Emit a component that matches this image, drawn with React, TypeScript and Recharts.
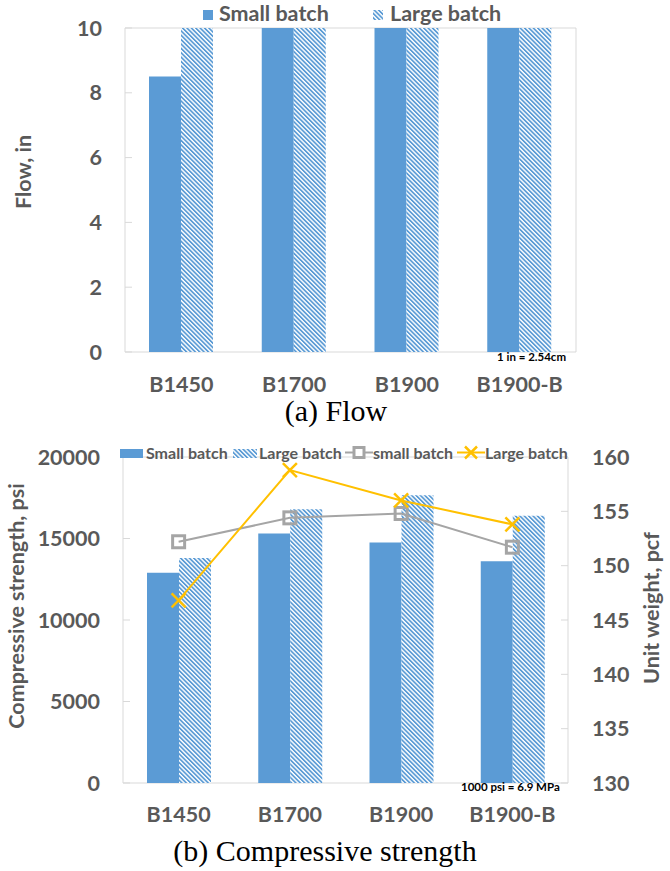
import React from 'react';
import { BarChart, ComposedChart, Bar, Line, XAxis, YAxis, ReferenceArea, Label } from 'recharts';

const MIXES = ['B1450', 'B1700', 'B1900', 'B1900-B'];

// (a) flow, in
const FLOW_SMALL = [8.5, 10, 10, 10];
const FLOW_LARGE = [10, 10, 10, 10];
const FLOW_TICKS = [0, 2, 4, 6, 8, 10];

// (b) compressive strength, psi / unit weight, pcf
const STRENGTH_SMALL = [12900, 15300, 14750, 13600];
const STRENGTH_LARGE = [13800, 16800, 17650, 16400];
const WEIGHT_SMALL = [152.2, 154.4, 154.8, 151.7];
const WEIGHT_LARGE = [146.8, 158.8, 156.0, 153.8];
const STRENGTH_TICKS = [0, 5000, 10000, 15000, 20000];
const WEIGHT_TICKS = [130, 135, 140, 145, 150, 155, 160];

const BAR_NAMES = ['Small batch', 'Large batch'];
const LINE_NAMES = ['small batch', 'Large batch'];

const BLUE = '#5B9BD5';
const GRAY = '#A5A5A5';
const GOLD = '#FFC000';
const TEXT = '#595959';
const FRAME = '#D9D9D9';
const FONT = "Lato, 'Open Sans', sans-serif";
const SERIF = "'Liberation Serif', 'Times New Roman', serif";

const flowData = MIXES.map((mix, i) => ({ mix, small: FLOW_SMALL[i], large: FLOW_LARGE[i] }));
const strengthData = MIXES.map((mix, i) => ({
  mix,
  small: STRENGTH_SMALL[i],
  large: STRENGTH_LARGE[i],
  wSmall: WEIGHT_SMALL[i],
  wLarge: WEIGHT_LARGE[i],
}));

const tickStyle = { fill: TEXT, fontSize: 21.5, fontWeight: 700, fontFamily: FONT };

const SquareDot = (props: any) => {
  const { cx, cy, index } = props;
  if (cx == null || cy == null) return <g key={index} />;
  return <rect key={index} x={cx - 6} y={cy - 6} width={12} height={12} fill="none" stroke={GRAY} strokeWidth={3} />;
};

const CrossDot = (props: any) => {
  const { cx, cy, index } = props;
  if (cx == null || cy == null) return <g key={index} />;
  return (
    <g key={index} stroke={GOLD} strokeWidth={2.5}>
      <line x1={cx - 7} y1={cy - 7} x2={cx + 7} y2={cy + 7} />
      <line x1={cx - 7} y1={cy + 7} x2={cx + 7} y2={cy - 7} />
    </g>
  );
};

const abs = (left: number, top: number): React.CSSProperties => ({ position: 'absolute', left, top });

const LegendText = ({ left, top, size, children }: { left: number; top: number; size: number; children: React.ReactNode }) => (
  <div style={{ ...abs(left, top), fontFamily: FONT, fontWeight: 700, fontSize: size, lineHeight: `${size * 1.2}px`, color: TEXT, whiteSpace: 'nowrap' }}>
    {children}
  </div>
);

export default function App() {
  return (
    <div style={{ position: 'absolute', left: 0, top: 0, width: 670, height: 871, background: '#fff' }}>
      <svg width={0} height={0} style={{ position: 'absolute' }}>
        <defs>
          <pattern id="hatch" patternUnits="userSpaceOnUse" width={3.1} height={10} patternTransform="rotate(-45)">
            <rect width={3.1} height={10} fill="#fff" />
            <rect width={1.7} height={10} fill={BLUE} />
          </pattern>
        </defs>
      </svg>

      {/* (a) Flow */}
      <div style={abs(0, 0)}>
        <BarChart width={670} height={400} data={flowData} margin={{ top: 28, right: 94, bottom: 0, left: 0 }} barGap={0}>
          <XAxis dataKey="mix" axisLine={false} tickLine={false} tickMargin={19} height={48} interval={0} tick={tickStyle} />
          <YAxis
            domain={[0, 10]}
            ticks={FLOW_TICKS}
            width={125}
            axisLine={false}
            tickSize={-7}
            tickLine={{ stroke: FRAME }}
            tickMargin={30}
            tick={tickStyle}
          >
            <Label value="Flow, in" angle={-90} position="center" dx={-39} dy={-18} fill={TEXT} fontSize={21.5} fontWeight={700} fontFamily={FONT} />
          </YAxis>
          <ReferenceArea y1={0} y2={10} fill="none" stroke={FRAME} ifOverflow="visible" />
          <Bar dataKey="small" name={BAR_NAMES[0]} fill={BLUE} barSize={32} isAnimationActive={false} />
          <Bar dataKey="large" name={BAR_NAMES[1]} fill="url(#hatch)" barSize={32} isAnimationActive={false} />
        </BarChart>
      </div>

      <svg style={abs(203, 10)} width={10} height={10}><rect width={10} height={10} fill={BLUE} /></svg>
      <LegendText left={219} top={1} size={21.5}>{BAR_NAMES[0]}</LegendText>
      <svg style={abs(373, 10)} width={10} height={10}><rect width={10} height={10} fill="url(#hatch)" /></svg>
      <LegendText left={390} top={1} size={21.5}>{BAR_NAMES[1]}</LegendText>

      <div style={{ ...abs(497, 350), fontFamily: FONT, fontWeight: 700, fontSize: 11.5, color: '#000', whiteSpace: 'nowrap' }}>1 in = 2.54cm</div>

      <div style={{ position: 'absolute', left: 0, top: 396, width: 672, textAlign: 'center', fontFamily: SERIF, fontSize: 30, lineHeight: 1, color: '#000' }}>
        (a) Flow
      </div>

      {/* (b) Compressive strength */}
      <div style={abs(0, 440)}>
        <ComposedChart width={670} height={391} data={strengthData} margin={{ top: 17, right: 0, bottom: 0, left: 0 }} barGap={0}>
          <XAxis dataKey="mix" axisLine={false} tickLine={false} tickMargin={18} height={48} interval={0} tick={tickStyle} />
          <YAxis
            yAxisId="left"
            domain={[0, 20000]}
            ticks={STRENGTH_TICKS}
            width={123}
            axisLine={false}
            tickSize={-7}
            tickLine={{ stroke: FRAME }}
            tickMargin={30}
            tick={tickStyle}
          >
            <Label value="Compressive strength, psi" angle={-90} position="center" dx={-45} dy={-14} fill={TEXT} fontSize={21.5} fontWeight={700} fontFamily={FONT} />
          </YAxis>
          <YAxis
            yAxisId="right"
            orientation="right"
            domain={[130, 160]}
            ticks={WEIGHT_TICKS}
            width={102}
            axisLine={false}
            tickSize={-7}
            tickLine={{ stroke: FRAME }}
            tickMargin={31}
            tick={tickStyle}
          >
            <Label value="Unit weight, pcf" angle={-90} position="center" dx={32} dy={-12} fill={TEXT} fontSize={21.5} fontWeight={700} fontFamily={FONT} />
          </YAxis>
          <ReferenceArea yAxisId="left" y1={0} y2={20000} fill="none" stroke={FRAME} ifOverflow="visible" />
          <Bar yAxisId="left" dataKey="small" name={BAR_NAMES[0]} fill={BLUE} barSize={32} isAnimationActive={false} />
          <Bar yAxisId="left" dataKey="large" name={BAR_NAMES[1]} fill="url(#hatch)" barSize={32} isAnimationActive={false} />
          <Line yAxisId="right" dataKey="wSmall" name={LINE_NAMES[0]} stroke={GRAY} strokeWidth={2} dot={SquareDot} activeDot={false} isAnimationActive={false} />
          <Line yAxisId="right" dataKey="wLarge" name={LINE_NAMES[1]} stroke={GOLD} strokeWidth={2} dot={CrossDot} activeDot={false} isAnimationActive={false} />
        </ComposedChart>
      </div>

      <svg style={abs(120, 449)} width={23} height={9}><rect width={23} height={9} fill={BLUE} /></svg>
      <LegendText left={146} top={443} size={16}>{BAR_NAMES[0]}</LegendText>
      <svg style={abs(233, 449)} width={24} height={9}><rect width={24} height={9} fill="url(#hatch)" /></svg>
      <LegendText left={259} top={443} size={16}>{BAR_NAMES[1]}</LegendText>
      <svg style={abs(345, 445)} width={28} height={15}>
        <line x1={0} y1={7.5} x2={28} y2={7.5} stroke={GRAY} strokeWidth={2} />
        <rect x={9} y={2.5} width={10} height={10} fill="#fff" stroke={GRAY} strokeWidth={3} />
      </svg>
      <LegendText left={373} top={443} size={16}>{LINE_NAMES[0]}</LegendText>
      <svg style={abs(457, 445)} width={28} height={15}>
        <line x1={0} y1={7.5} x2={28} y2={7.5} stroke={GOLD} strokeWidth={2} />
        <line x1={8} y1={1.5} x2={20} y2={13.5} stroke={GOLD} strokeWidth={2.5} />
        <line x1={8} y1={13.5} x2={20} y2={1.5} stroke={GOLD} strokeWidth={2.5} />
      </svg>
      <LegendText left={485} top={443} size={16}>{LINE_NAMES[1]}</LegendText>

      <div style={{ ...abs(461, 780), fontFamily: FONT, fontWeight: 700, fontSize: 11.5, color: '#000', whiteSpace: 'nowrap' }}>1000 psi = 6.9 MPa</div>

      <div style={{ position: 'absolute', left: 0, top: 836, width: 650, textAlign: 'center', fontFamily: SERIF, fontSize: 30, lineHeight: 1, color: '#000' }}>
        (b) Compressive strength
      </div>
    </div>
  );
}
